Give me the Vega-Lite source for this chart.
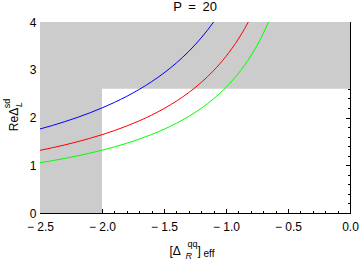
{
  "$schema": "https://vega.github.io/schema/vega-lite/v6.json",
  "width": 310,
  "height": 191,
  "autosize": "none",
  "padding": {"left": 40, "top": 22, "right": 10, "bottom": 47},
  "background": "white",
  "title": {"text": "P\u2002=\u200220", "font": "Liberation Sans", "fontSize": 13, "fontWeight": "normal", "color": "black", "frame": "group", "anchor": "middle", "baseline": "alphabetic", "offset": -8},
  "config": {
    "view": {"stroke": null},
    "axis": {"grid": false, "domainColor": "black", "domainWidth": 1, "tickColor": "black", "tickWidth": 1, "labelFont": "Liberation Sans", "labelFontSize": 12, "labelColor": "black", "labelFlush": false, "labelOverlap": false, "titleFont": "Liberation Sans", "titleFontWeight": "normal", "titleColor": "black", "titleFontSize": 12, "zindex": 1}
  },
  "datasets": {
    "leftRegion": [{"x": -2.5, "x2": -2.0, "y": 0, "y2": 4}],
    "topRegion": [{"x": -2.0, "x2": 0, "y": 2.6, "y2": 4}],
    "blue": [
      {"x": -2.5, "y": 1.76}, {"x": -2.4, "y": 1.833}, {"x": -2.3, "y": 1.913}, {"x": -2.2, "y": 2.0}, {"x": -2.1, "y": 2.095}, {"x": -2.0, "y": 2.2}, {"x": -1.9, "y": 2.316}, {"x": -1.8, "y": 2.444}, {"x": -1.7, "y": 2.588}, {"x": -1.6, "y": 2.75}, {"x": -1.5, "y": 2.933}, {"x": -1.4, "y": 3.143}, {"x": -1.3, "y": 3.385}, {"x": -1.2, "y": 3.667}, {"x": -1.15, "y": 3.826}, {"x": -1.1, "y": 4.0}
    ],
    "red": [
      {"x": -2.5, "y": 1.312}, {"x": -2.4, "y": 1.367}, {"x": -2.3, "y": 1.426}, {"x": -2.2, "y": 1.491}, {"x": -2.1, "y": 1.562}, {"x": -2.0, "y": 1.64}, {"x": -1.9, "y": 1.726}, {"x": -1.8, "y": 1.822}, {"x": -1.7, "y": 1.929}, {"x": -1.6, "y": 2.05}, {"x": -1.5, "y": 2.187}, {"x": -1.4, "y": 2.343}, {"x": -1.3, "y": 2.523}, {"x": -1.2, "y": 2.733}, {"x": -1.1, "y": 2.982}, {"x": -1.0, "y": 3.28}, {"x": -0.95, "y": 3.453}, {"x": -0.9, "y": 3.644}, {"x": -0.85, "y": 3.859}, {"x": -0.82, "y": 4.0}
    ],
    "green": [
      {"x": -2.5, "y": 1.052}, {"x": -2.4, "y": 1.096}, {"x": -2.3, "y": 1.143}, {"x": -2.2, "y": 1.195}, {"x": -2.1, "y": 1.252}, {"x": -2.0, "y": 1.315}, {"x": -1.9, "y": 1.384}, {"x": -1.8, "y": 1.461}, {"x": -1.7, "y": 1.547}, {"x": -1.6, "y": 1.644}, {"x": -1.5, "y": 1.753}, {"x": -1.4, "y": 1.879}, {"x": -1.3, "y": 2.023}, {"x": -1.2, "y": 2.192}, {"x": -1.1, "y": 2.391}, {"x": -1.0, "y": 2.63}, {"x": -0.9, "y": 2.922}, {"x": -0.8, "y": 3.288}, {"x": -0.75, "y": 3.507}, {"x": -0.7, "y": 3.757}, {"x": -0.6575, "y": 4.0}
    ]
  },
  "resolve": {"axis": {"x": "independent", "y": "independent"}},
  "layer": [
    {
      "data": {"name": "leftRegion"},
      "mark": {"type": "rect", "color": "#cccccc"},
      "encoding": {
        "x": {"field": "x", "type": "quantitative", "scale": {"domain": [-2.5, 0], "nice": false, "zero": false},
          "axis": {"orient": "bottom", "values": [-2.5, -2, -1.5, -1, -0.5, 0], "ticks": false, "labelPadding": 8, "labelFlush": false, "labelExpr": "datum.value < 0 ? '\u2212 ' + format(-datum.value, '.1f') : format(datum.value, '.1f')", "title": "[\u0394", "titleX": 129, "titleY": 41, "titleAlign": "left", "titleBaseline": "alphabetic", "titleAngle": 0}},
        "x2": {"field": "x2"},
        "y": {"field": "y", "type": "quantitative", "scale": {"domain": [0, 4], "nice": false, "zero": false},
          "axis": {"orient": "left", "values": [0, 1, 2, 3, 4], "ticks": false, "labelPadding": 4, "labelFlush": false, "format": "d", "title": "Re\u0394", "titleX": -23, "titleY": 97, "titleAngle": 270, "titleAlign": "center", "titleBaseline": "alphabetic"}},
        "y2": {"field": "y2"}
      }
    },
    {
      "data": {"name": "topRegion"},
      "mark": {"type": "rect", "color": "#cccccc"},
      "encoding": {
        "x": {"field": "x", "type": "quantitative", "scale": {"domain": [-2.5, 0], "nice": false, "zero": false},
          "axis": {"orient": "bottom", "values": [-2.5, -2, -1.5, -1, -0.5, 0], "labels": false, "tickSize": -4.5, "title": "]", "titleX": 157, "titleY": 41, "titleAlign": "left", "titleBaseline": "alphabetic", "titleAngle": 0}},
        "x2": {"field": "x2"},
        "y": {"field": "y", "type": "quantitative", "scale": {"domain": [0, 4], "nice": false, "zero": false},
          "axis": {"orient": "left", "values": [0, 1, 2, 3, 4], "labels": false, "tickSize": -4.5, "title": "L", "titleFontStyle": "italic", "titleFontSize": 9, "titleX": -19, "titleY": 82, "titleAngle": 270, "titleAlign": "center", "titleBaseline": "alphabetic"}},
        "y2": {"field": "y2"}
      }
    },
    {
      "data": {"name": "blue"},
      "mark": {"type": "line", "color": "#0000ff", "strokeWidth": 1, "interpolate": "monotone", "clip": true},
      "encoding": {
        "x": {"field": "x", "type": "quantitative", "scale": {"domain": [-2.5, 0], "nice": false, "zero": false},
          "axis": {"orient": "top", "values": [-2.5, -2, -1.5, -1, -0.5, 0], "labels": false, "tickSize": -4.5, "title": "qq", "titleFontSize": 9, "titleX": 147, "titleY": 224, "titleAlign": "left", "titleBaseline": "alphabetic", "titleAngle": 0}},
        "y": {"field": "y", "type": "quantitative", "scale": {"domain": [0, 4], "nice": false, "zero": false},
          "axis": {"orient": "left", "values": [0.2, 0.4, 0.6, 0.8, 1.2, 1.4, 1.6, 1.8, 2.2, 2.4, 2.6, 2.8, 3.2, 3.4, 3.6, 3.8], "labels": false, "tickSize": -2.5, "title": "sd", "titleFontSize": 9, "titleX": -31, "titleY": 81, "titleAngle": 270, "titleAlign": "center", "titleBaseline": "alphabetic"}}
      }
    },
    {
      "data": {"name": "red"},
      "mark": {"type": "line", "color": "#ff0000", "strokeWidth": 1, "interpolate": "monotone", "clip": true},
      "encoding": {
        "x": {"field": "x", "type": "quantitative", "scale": {"domain": [-2.5, 0], "nice": false, "zero": false},
          "axis": {"orient": "top", "values": [-2.4, -2.3, -2.2, -2.1, -1.9, -1.8, -1.7, -1.6, -1.4, -1.3, -1.2, -1.1, -0.9, -0.8, -0.7, -0.6, -0.4, -0.3, -0.2, -0.1], "labels": false, "tickSize": -2.5, "title": "R", "titleFontStyle": "italic", "titleFontSize": 9, "titleX": 145, "titleY": 236, "titleAlign": "left", "titleBaseline": "alphabetic", "titleAngle": 0}},
        "y": {"field": "y", "type": "quantitative", "scale": {"domain": [0, 4], "nice": false, "zero": false},
          "axis": {"orient": "right", "values": [0, 1, 2, 3, 4], "labels": false, "tickSize": -4.5, "title": null}}
      }
    },
    {
      "data": {"name": "green"},
      "mark": {"type": "line", "color": "#00ff00", "strokeWidth": 1, "interpolate": "monotone", "clip": true},
      "encoding": {
        "x": {"field": "x", "type": "quantitative", "scale": {"domain": [-2.5, 0], "nice": false, "zero": false},
          "axis": {"orient": "bottom", "values": [-2.4, -2.3, -2.2, -2.1, -1.9, -1.8, -1.7, -1.6, -1.4, -1.3, -1.2, -1.1, -0.9, -0.8, -0.7, -0.6, -0.4, -0.3, -0.2, -0.1], "labels": false, "tickSize": -2.5, "title": "eff", "titleFontSize": 10, "titleX": 163, "titleY": 43, "titleAlign": "left", "titleBaseline": "alphabetic", "titleAngle": 0}},
        "y": {"field": "y", "type": "quantitative", "scale": {"domain": [0, 4], "nice": false, "zero": false},
          "axis": {"orient": "right", "values": [0.2, 0.4, 0.6, 0.8, 1.2, 1.4, 1.6, 1.8, 2.2, 2.4, 2.6, 2.8, 3.2, 3.4, 3.6, 3.8], "labels": false, "tickSize": -2.5, "title": null}}
      }
    }
  ]
}
